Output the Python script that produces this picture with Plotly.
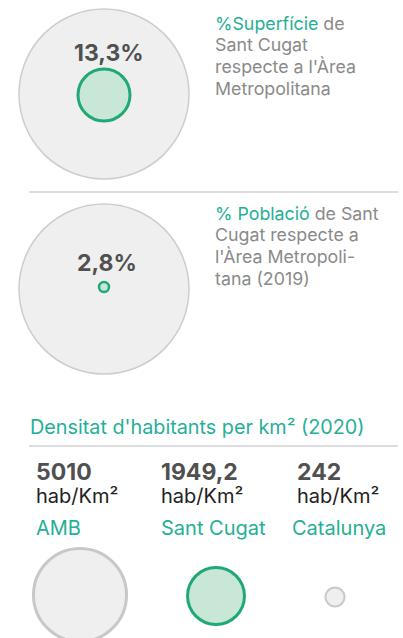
import plotly.graph_objects as go
import math

# ---- data ----
share_labels = ["13,3%", "2,8%"]
share_values = [13.3, 2.8]
share_titles = ["%Superfície", "% Població"]
density_regions = ["AMB", "Sant Cugat", "Catalunya"]
density_values = [5010, 1949.2, 242]
density_labels = ["5010", "1949,2", "242"]
density_unit = "hab/Km²"
density_title = "Densitat d'habitants per km² (2020)"

# ---- style ----
W, H = 403, 638
FONT = "Inter"
TEAL = "#25af96"
GREEN_LINE = "#20a878"
GREEN_FILL = "#c8e7d7"
GREY_FILL = "#efefef"
GREY_LINE = "#cdcdcd"
DESC = "#8a8a8a"
NUM = "#505050"

fig = go.Figure()

# share blocks: big reference circle (100%) + Sant Cugat circle
block_cy = [94, 289]
inner_px = [52, 10]
inner_lw = [3, 2.5]
inner_dy = [1, -2]
for i, v in enumerate(share_values):
    cy = block_cy[i]
    fig.add_trace(go.Scatter(x=[104], y=[cy], mode="markers", hoverinfo="skip",
                             marker=dict(size=170, color=GREY_FILL,
                                         line=dict(color=GREY_LINE, width=1.5))))
    fig.add_trace(go.Scatter(x=[104], y=[cy + inner_dy[i]], mode="markers", hoverinfo="skip",
                             marker=dict(size=inner_px[i], color=GREEN_FILL,
                                         line=dict(color=GREEN_LINE, width=inner_lw[i]))))

# density circles: diameter ~ sqrt(value)
k = 96 / math.sqrt(max(density_values))
dens_x = [80, 216, 335]
dens_y = [595, 596, 597]
dens_fill = [GREY_FILL, GREEN_FILL, GREY_FILL]
dens_line = ["#c8c8c8", GREEN_LINE, "#c8c8c8"]
dens_lw = [3, 3, 2]
for i, v in enumerate(density_values):
    d = k * math.sqrt(v)
    fig.add_trace(go.Scatter(x=[dens_x[i]], y=[dens_y[i]], mode="markers", hoverinfo="skip",
                             cliponaxis=False,
                             marker=dict(size=d - dens_lw[i], color=dens_fill[i],
                                         line=dict(color=dens_line[i], width=dens_lw[i]))))

ann = []
def txt(x, y, t, size, color, bold=False, xanchor="left"):
    ann.append(dict(x=x, y=y, xref="x", yref="y", text=(f"<b>{t}</b>" if bold else t),
                    showarrow=False, xanchor=xanchor, yanchor="middle", borderpad=0,
                    font=dict(family=FONT, size=size, color=color)))

# share numbers
txt(109, 53, share_labels[0], 23, NUM, bold=True, xanchor="center")
txt(107, 263, share_labels[1], 23, NUM, bold=True, xanchor="center")

# descriptions
desc1 = [f"<span style='color:{TEAL}'>{share_titles[0]}</span> de", "Sant Cugat",
         "respecte a l'Àrea", "Metropolitana"]
for j, line in enumerate(desc1):
    txt(214, 23 + j * 21.8, line, 17.8, DESC)
desc2 = [f"<span style='color:{TEAL}'>{share_titles[1]}</span> de Sant", "Cugat respecte a",
         "l'Àrea Metropoli-", "tana (2019)"]
for j, line in enumerate(desc2):
    txt(214, 213 + j * 21.8, line, 17.8, DESC)

# density section
txt(29, 427, density_title, 19.8, TEAL)
col_x = [35, 160, 296]
reg_x = [35, 160, 291]
for i in range(3):
    txt(col_x[i], 472, density_labels[i], 23, NUM, bold=True)
    txt(col_x[i], 496, density_unit, 20, "#222222")
    txt(reg_x[i], 528, density_regions[i], 20, TEAL)

shapes = [
    dict(type="line", x0=29, x1=398, y0=192, y1=192, xref="x", yref="y",
         line=dict(color="#dddddd", width=2)),
    dict(type="line", x0=29, x1=398, y0=446, y1=446, xref="x", yref="y",
         line=dict(color="#dddddd", width=2)),
]

fig.update_layout(
    width=W, height=H, margin=dict(l=0, r=0, t=0, b=0),
    paper_bgcolor="white", plot_bgcolor="white", showlegend=False,
    xaxis=dict(range=[0, W], visible=False, fixedrange=True),
    yaxis=dict(range=[H, 0], visible=False, fixedrange=True),
    annotations=ann, shapes=shapes,
)
fig.write_html("out.html", config={"displayModeBar": False},
               post_script="document.body.style.margin='0';document.body.style.overflow='hidden';")
